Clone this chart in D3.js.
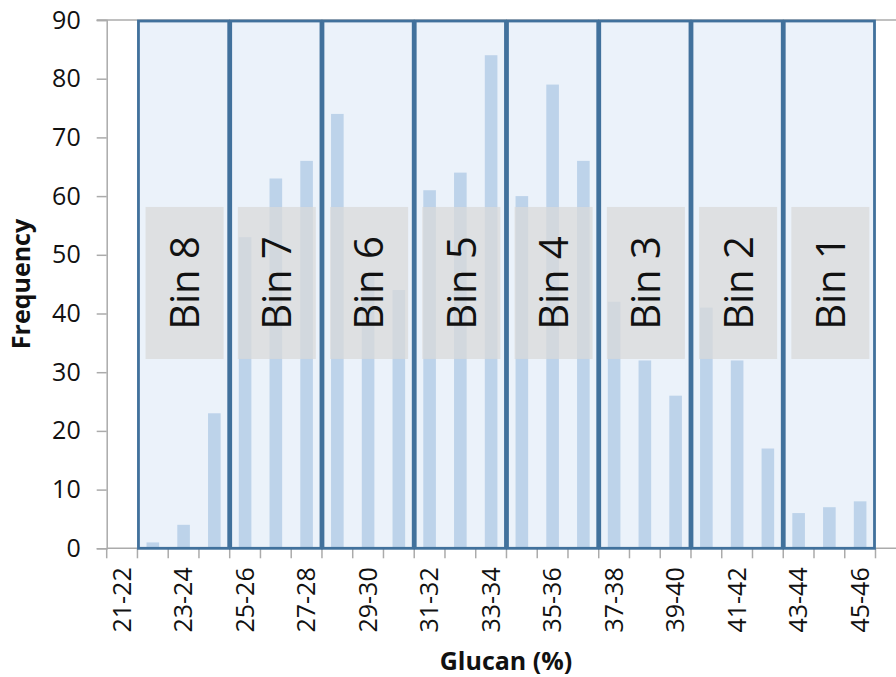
<!DOCTYPE html>
<html>
<head>
<meta charset="utf-8">
<script src="https://cdn.jsdelivr.net/npm/d3@7"></script>
<style>
  body { margin: 0; background: #fff; }
  svg text { font-family: "Open Sans", "Liberation Sans", sans-serif; fill: #111; }
</style>
</head>
<body>
<svg id="chart" width="896" height="677"></svg>
<script>
// glucan ranges, one per bar
var categories = ['21-22','22-23','23-24','24-25','25-26','26-27','27-28','28-29','29-30','30-31',
  '31-32','32-33','33-34','34-35','35-36','36-37','37-38','38-39','39-40','40-41',
  '41-42','42-43','43-44','44-45','45-46'];
var frequency = [0, 1, 4, 23, 53, 63, 66, 74, 47, 44,
  61, 64, 84, 60, 79, 66, 42, 32, 26, 41,
  32, 17, 6, 7, 8];
var yTicks = [0, 10, 20, 30, 40, 50, 60, 70, 80, 90];
// bins, first and last range of each
var binNames = ['Bin 8','Bin 7','Bin 6','Bin 5','Bin 4','Bin 3','Bin 2','Bin 1'];
var binFirst = ['22-23','25-26','28-29','31-32','34-35','37-38','40-41','43-44'];
var binLast  = ['24-25','27-28','30-31','33-34','36-37','39-40','42-43','45-46'];

var svg = d3.select('#chart');
var plotLeft = 106.7, plotRight = 875.5, plotTop = 20, plotBottom = 548.3;
var axisGray = '#ababab';

var x = d3.scaleBand().domain(categories).range([plotLeft, plotRight])
  .paddingInner(0.59).paddingOuter(0.295);
var xb = d3.scaleBand().domain(categories).range([plotLeft, plotRight]).padding(0);
var y = d3.scaleLinear().domain([0, 90]).range([plotBottom, plotTop]);

// bin background
var bins = binNames.map(function(n, i){
  var x0 = xb(binFirst[i]), x1 = xb(binLast[i]) + xb.bandwidth();
  return {name: n, x0: x0, x1: x1};
});

svg.append('g').selectAll('rect').data(bins).enter().append('rect')
  .attr('x', function(d){ return d.x0; })
  .attr('y', plotTop)
  .attr('width', function(d){ return d.x1 - d.x0; })
  .attr('height', plotBottom - plotTop)
  .attr('fill', '#ebf2fa');

// bars
svg.append('g').selectAll('rect').data(frequency).enter().append('rect')
  .attr('x', function(d, i){ return x(categories[i]); })
  .attr('y', function(d){ return y(d); })
  .attr('width', x.bandwidth())
  .attr('height', function(d){ return plotBottom - y(d); })
  .attr('fill', '#bdd3ea');

// top line and axes
svg.append('line').attr('x1', plotLeft - 10).attr('x2', 896).attr('y1', plotTop).attr('y2', plotTop)
  .attr('stroke', axisGray).attr('stroke-width', 1.5);

var yAxis = svg.append('g').attr('transform', 'translate(' + plotLeft + ',0)')
  .call(d3.axisLeft(y).tickValues(yTicks).tickSize(10).tickPadding(16));
yAxis.select('.domain').attr('stroke', axisGray).attr('stroke-width', 1.5);
yAxis.selectAll('.tick line').attr('stroke', axisGray).attr('stroke-width', 1.5);
yAxis.selectAll('.tick text').attr('font-size', 25).attr('font-family', null).attr('fill', '#111');

svg.append('line').attr('x1', plotLeft).attr('x2', 896).attr('y1', plotBottom).attr('y2', plotBottom)
  .attr('stroke', axisGray).attr('stroke-width', 1.5);

var tickPos = categories.map(function(c){ return xb(c); }).concat([plotRight]);
svg.append('g').selectAll('line').data(tickPos).enter().append('line')
  .attr('x1', function(d){ return d; }).attr('x2', function(d){ return d; })
  .attr('y1', plotBottom).attr('y2', plotBottom + 10)
  .attr('stroke', axisGray).attr('stroke-width', 1.5);

svg.append('g').selectAll('text')
  .data(categories.filter(function(c, i){ return i % 2 === 0; }))
  .enter().append('text')
  .attr('transform', function(d){
    return 'translate(' + (x(d) + x.bandwidth() / 2) + ',' + (plotBottom + 19) + ') rotate(-90)';
  })
  .attr('text-anchor', 'end')
  .attr('dy', '0.35em')
  .attr('font-size', 25)
  .text(function(d){ return d; });

// bin outlines
svg.append('g').selectAll('rect').data(bins).enter().append('rect')
  .attr('x', function(d){ return d.x0 + 1; })
  .attr('y', plotTop + 1)
  .attr('width', function(d){ return d.x1 - d.x0 - 2; })
  .attr('height', plotBottom - plotTop - 1)
  .attr('fill', 'none')
  .attr('stroke', '#41719c')
  .attr('stroke-width', 2.8);

// bin labels
var labelW = 78, labelH = 152, labelMid = y(45.2);
var lab = svg.append('g').selectAll('g').data(bins).enter().append('g')
  .attr('transform', function(d){
    return 'translate(' + ((d.x0 + d.x1) / 2 + 1) + ',' + labelMid + ')';
  });
lab.append('rect')
  .attr('x', -labelW / 2).attr('y', -labelH / 2)
  .attr('width', labelW).attr('height', labelH)
  .attr('fill', '#d9d9d9').attr('fill-opacity', 0.74);
lab.append('text')
  .attr('transform', 'rotate(-90)')
  .attr('text-anchor', 'middle')
  .attr('dy', '0.36em')
  .attr('font-size', 40)
  .text(function(d){ return d.name; });

// axis titles
svg.append('text')
  .attr('transform', 'translate(30,' + 284 + ') rotate(-90)')
  .attr('text-anchor', 'middle')
  .attr('font-size', 25).attr('font-weight', 'bold')
  .text('Frequency');

svg.append('text')
  .attr('x', 506).attr('y', 670)
  .attr('text-anchor', 'middle')
  .attr('font-size', 25).attr('font-weight', 'bold')
  .text('Glucan (%)');
</script>
</body>
</html>
